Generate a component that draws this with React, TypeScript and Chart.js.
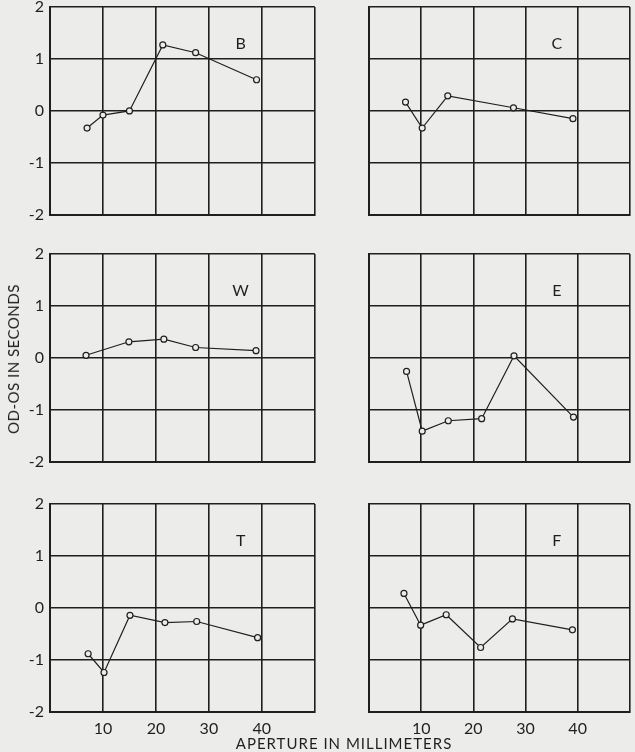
import React, { useEffect, useRef } from 'react';
import { Chart, registerables } from 'chart.js';

Chart.register(...registerables);

// Aperture (mm) and OD-OS (s) for each observer panel
const apertureB = [7, 10, 15, 21.3, 27.5, 39];
const valuesB = [-0.33, -0.08, 0.0, 1.27, 1.12, 0.6];

const apertureC = [7, 10.2, 15.1, 27.7, 39.1];
const valuesC = [0.17, -0.33, 0.29, 0.06, -0.15];

const apertureW = [6.8, 14.9, 21.5, 27.5, 38.9];
const valuesW = [0.05, 0.31, 0.36, 0.2, 0.14];

const apertureE = [7.2, 10.2, 15.2, 21.6, 27.8, 39.2];
const valuesE = [-0.26, -1.41, -1.21, -1.17, 0.04, -1.14];

const apertureT = [7.2, 10.2, 15.1, 21.7, 27.7, 39.2];
const valuesT = [-0.88, -1.24, -0.14, -0.28, -0.26, -0.57];

const apertureF = [6.7, 9.9, 14.8, 21.4, 27.5, 39];
const valuesF = [0.28, -0.33, -0.13, -0.76, -0.21, -0.42];

const xTickLabels = [10, 20, 30, 40];
const yTickLabels = [-2, -1, 0, 1, 2];

const X_MIN = 0;
const X_MAX = 50;
const Y_MIN = -2;
const Y_MAX = 2;

const INK = '#1f1f1f';
const PAPER = '#ececea';
const FONT = 'Lato, "DejaVu Sans", sans-serif';

type PanelProps = {
  label: string;
  xs: number[];
  ys: number[];
  left: number;
  top: number;
  width: number;
  height: number;
  showY: boolean;
  showX: boolean;
  padRight: number;
};

function Panel(props: PanelProps) {
  const ref = useRef<HTMLCanvasElement | null>(null);
  useEffect(() => {
    if (!ref.current) return;
    const data = props.xs.map((x, i) => ({ x, y: props.ys[i] }));
    const labelPlugin = {
      id: 'panelLabel',
      afterDatasetsDraw(chart: any) {
        const { ctx, scales } = chart;
        ctx.save();
        ctx.fillStyle = INK;
        ctx.font = `16px ${FONT}`;
        ctx.textAlign = 'center';
        ctx.textBaseline = 'middle';
        ctx.fillText(props.label, scales.x.getPixelForValue(36), scales.y.getPixelForValue(1.3));
        ctx.restore();
      },
    };
    const zeroPad = (scale: any) => {
      scale.paddingTop = 0;
      scale.paddingBottom = 0;
      scale.paddingLeft = 0;
      scale.paddingRight = 0;
    };
    const chart = new Chart(ref.current, {
      type: 'line',
      data: {
        datasets: [
          {
            data,
            borderColor: INK,
            borderWidth: 1.2,
            pointRadius: 3,
            pointBackgroundColor: PAPER,
            pointBorderColor: INK,
            pointBorderWidth: 1.2,
            tension: 0,
          },
        ],
      },
      options: {
        animation: false,
        responsive: false,
        devicePixelRatio: 1,
        layout: { padding: { top: 7, right: props.padRight, bottom: props.showX ? 0 : 4, left: 0 } },
        plugins: { legend: { display: false }, tooltip: { enabled: false } },
        scales: {
          x: {
            type: 'linear',
            min: X_MIN,
            max: X_MAX,
            afterBuildTicks: (scale: any) => {
              scale.ticks = [X_MIN, ...xTickLabels, X_MAX].map((v) => ({ value: v }));
            },
            afterFit: (scale: any) => {
              scale.height = props.showX ? 26 : 0;
              zeroPad(scale);
            },
            grid: { color: INK, lineWidth: 1.6, drawTicks: false },
            border: { display: true, color: INK, width: 2 },
            ticks: {
              display: props.showX,
              padding: 7,
              color: INK,
              font: { family: FONT, size: 16 },
              maxRotation: 0,
              callback: (v: any) => (xTickLabels.includes(Number(v)) ? String(v) : ''),
            },
          },
          y: {
            type: 'linear',
            min: Y_MIN,
            max: Y_MAX,
            afterBuildTicks: (scale: any) => {
              scale.ticks = yTickLabels.map((v) => ({ value: v }));
            },
            afterFit: (scale: any) => {
              scale.width = 50;
              zeroPad(scale);
            },
            grid: { color: INK, lineWidth: 1.6, drawTicks: false },
            border: { display: true, color: INK, width: 2 },
            ticks: {
              display: props.showY,
              padding: 6,
              color: INK,
              font: { family: FONT, size: 16 },
              callback: (v: any) => String(v),
            },
          },
        },
      },
      plugins: [labelPlugin],
    } as any);
    return () => chart.destroy();
  }, []);
  return (
    <canvas
      ref={ref}
      width={props.width}
      height={props.height}
      style={{ position: 'absolute', left: props.left, top: props.top, width: props.width, height: props.height }}
    />
  );
}

export default function App() {
  return (
    <div
      style={{
        position: 'fixed',
        left: 0,
        top: 0,
        width: 635,
        height: 752,
        background: PAPER,
        overflow: 'hidden',
        fontFamily: FONT,
        color: INK,
      }}
    >
      <Panel label="B" xs={apertureB} ys={valuesB} left={0} top={0} width={320} height={220} showY={true} showX={false} padRight={4} />
      <Panel label="C" xs={apertureC} ys={valuesC} left={319} top={0} width={316} height={220} showY={false} showX={false} padRight={1} />
      <Panel label="W" xs={apertureW} ys={valuesW} left={0} top={247} width={320} height={220} showY={true} showX={false} padRight={4} />
      <Panel label="E" xs={apertureE} ys={valuesE} left={319} top={247} width={316} height={220} showY={false} showX={false} padRight={1} />
      <Panel label="T" xs={apertureT} ys={valuesT} left={0} top={497} width={320} height={241} showY={true} showX={true} padRight={4} />
      <Panel label="F" xs={apertureF} ys={valuesF} left={319} top={497} width={316} height={241} showY={false} showX={true} padRight={1} />
      <div
        style={{
          position: 'absolute',
          left: 13,
          top: 359,
          transform: 'translate(-50%, -50%) rotate(-90deg)',
          whiteSpace: 'nowrap',
          fontSize: 15,
          letterSpacing: 0.5,
        }}
      >
        OD-OS IN SECONDS
      </div>
      <div
        style={{
          position: 'absolute',
          left: 344,
          top: 743,
          transform: 'translate(-50%, -50%)',
          whiteSpace: 'nowrap',
          fontSize: 15,
          letterSpacing: 1,
        }}
      >
        APERTURE IN MILLIMETERS
      </div>
    </div>
  );
}
